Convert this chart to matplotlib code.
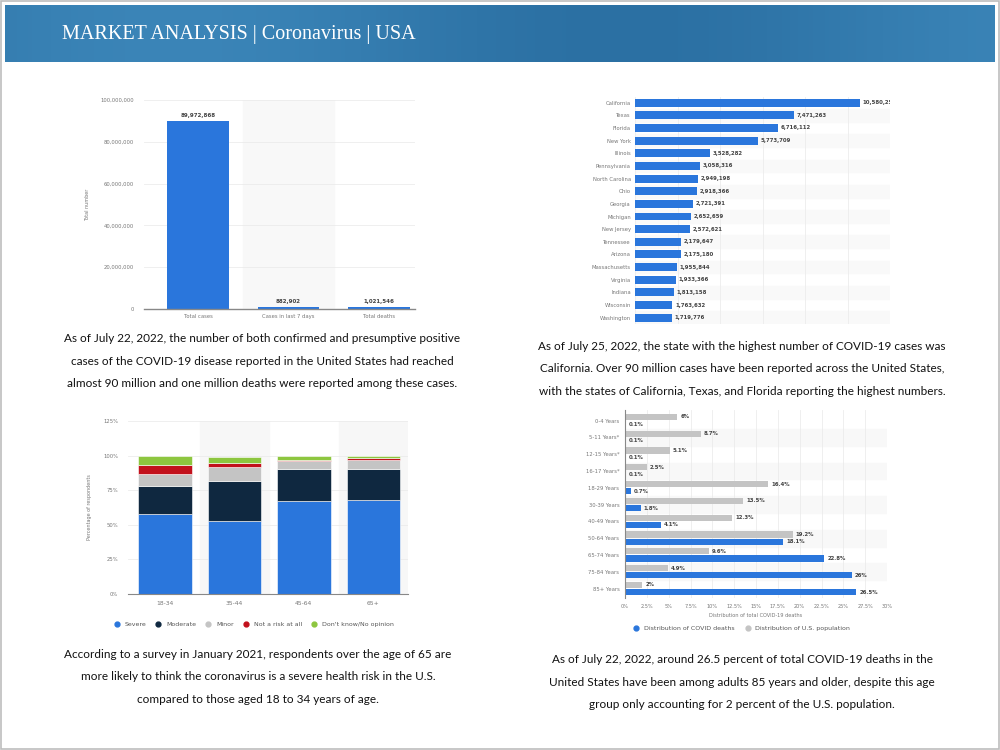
import numpy as np
import matplotlib.pyplot as plt
from matplotlib.lines import Line2D
from matplotlib.patches import Rectangle

# ---- data ----
summary_labels = ['Total cases', 'Cases in last 7 days', 'Total deaths']
summary_values = [89972868, 882902, 1021546]

states = ['California', 'Texas', 'Florida', 'New York', 'Illinois', 'Pennsylvania',
          'North Carolina', 'Ohio', 'Georgia', 'Michigan', 'New Jersey', 'Tennessee',
          'Arizona', 'Massachusetts', 'Virginia', 'Indiana', 'Wisconsin', 'Washington']
state_cases = [10580256, 7471263, 6716112, 5773709, 3528282, 3058316, 2949198, 2918366,
               2721391, 2652659, 2572621, 2179647, 2175180, 1955844, 1933366, 1813158,
               1763632, 1719776]

risk_groups = ['18-34', '35-44', '45-64', '65+']
risk_levels = ['Severe', 'Moderate', 'Minor', 'Not a risk at all', "Don't know/No opinion"]
severe = [58, 53, 67, 68]
moderate = [20, 29, 23, 22]
minor = [9, 10, 6, 7]
no_risk = [6, 3, 1, 1]
dont_know = [7, 4, 3, 2]

age_groups = ['0-4 Years', '5-11 Years*', '12-15 Years*', '16-17 Years*', '18-29 Years',
              '30-39 Years', '40-49 Years', '50-64 Years', '65-74 Years', '75-84 Years',
              '85+ Years']
pop_share = [6, 8.7, 5.1, 2.5, 16.4, 13.5, 12.3, 19.2, 9.6, 4.9, 2]
death_share = [0.1, 0.1, 0.1, 0.1, 0.7, 1.8, 4.1, 18.1, 22.8, 26, 26.5]

captions = [
    "As of July 22, 2022, the number of both confirmed and presumptive positive\n"
    "cases of the COVID-19 disease reported in the United States had reached\n"
    "almost 90 million and one million deaths were reported among these cases.",
    "As of July 25, 2022, the state with the highest number of COVID-19 cases was\n"
    "California. Over 90 million cases have been reported across the United States,\n"
    "with the states of California, Texas, and Florida reporting the highest numbers.",
    "According to a survey in January 2021, respondents over the age of 65 are\n"
    "more likely to think the coronavirus is a severe health risk in the U.S.\n"
    "compared to those aged 18 to 34 years of age.",
    "As of July 22, 2022, around 26.5 percent of total COVID-19 deaths in the\n"
    "United States have been among adults 85 years and older, despite this age\n"
    "group only accounting for 2 percent of the U.S. population.",
]

BLUE = '#2a76dc'
NAVY = '#0f2840'
GRAY = '#c4c4c4'
RED = '#c2111c'
GREEN = '#8dc63f'
TICK = '#777777'
W, H = 1000, 750

fig = plt.figure(figsize=(10, 7.5), dpi=100)
fig.patch.set_facecolor('white')


def px_axes(x0, y0, x1, y1, **kw):
    return fig.add_axes([x0 / W, 1 - y1 / H, (x1 - x0) / W, (y1 - y0) / H], **kw)


def clean(ax):
    for s in ax.spines.values():
        s.set_visible(False)
    ax.tick_params(length=0, labelsize=3.8, colors=TICK)
    ax.set_axisbelow(True)


# ---- header band ----
hax = px_axes(5, 5, 995, 62)
grad = np.linspace(0, 1, 256)
shade = 0.5 + 0.5 * np.sin(grad * np.pi * 2.2 + 0.4)
rgb = np.zeros((1, 256, 3))
rgb[0, :, 0] = 0.17 + 0.06 * shade
rgb[0, :, 1] = 0.44 + 0.08 * shade
rgb[0, :, 2] = 0.64 + 0.08 * shade
hax.imshow(rgb, aspect='auto', extent=[0, 1, 0, 1])
hax.set_xlim(0, 1)
hax.set_ylim(0, 1)
hax.axis('off')
fig.text(62 / W, 1 - 35 / H, 'MARKET ANALYSIS | Coronavirus | USA', color='white',
         fontsize=14.5, family='Liberation Serif', va='center', ha='left')

# outer frame
fig.add_artist(Rectangle((0.001, 0.001), 0.998, 0.998, transform=fig.transFigure,
                         fill=False, edgecolor='#bdbdbd', lw=1.2))

# ---- chart 1: totals ----
ax1 = px_axes(144, 100, 415, 309)
clean(ax1)
x1 = np.arange(len(summary_labels))
ax1.axvspan(0.5, 1.5, color='#f8f8f8', zorder=0)
ax1.bar(x1, summary_values, width=0.68, color=BLUE, zorder=2)
for xi, v in zip(x1, summary_values):
    ax1.text(xi, v + 1.5e6, f'{v:,}', ha='center', va='bottom', fontsize=4,
             fontweight='bold', color='#444444')
ax1.set_xlim(-0.6, 2.4)
ax1.set_ylim(0, 1e8)
ax1.set_yticks(np.arange(0, 1.01e8, 2e7))
ax1.set_yticklabels([f'{int(t):,}' for t in np.arange(0, 1.01e8, 2e7)])
ax1.set_xticks(x1)
ax1.set_xticklabels(summary_labels)
ax1.grid(axis='y', color='#ececec', lw=0.6)
ax1.spines['bottom'].set_visible(True)
ax1.spines['bottom'].set_color('#888888')
ax1.spines['bottom'].set_linewidth(1)
ax1.tick_params(axis='y', pad=7)
ax1.set_ylabel('Total number', fontsize=3.5, color=TICK, labelpad=8)

# ---- chart 2: states ----
ax2 = px_axes(635, 97, 890, 324)
clean(ax2)
y2 = np.arange(len(states))
for i in y2[1::2]:
    ax2.axhspan(i - 0.5, i + 0.5, color='#f9f9f9', zorder=0)
ax2.barh(y2, state_cases, height=0.63, color=BLUE, zorder=2)
for yi, v in zip(y2, state_cases):
    ax2.text(v + 1.2e5, yi, f'{v:,}', va='center', ha='left', fontsize=3.9,
             fontweight='bold', color='#444444', clip_on=True)
ax2.set_xlim(0, 1.2e7)
ax2.set_ylim(len(states) - 0.5, -0.45)
ax2.set_xticks(np.arange(0, 1.21e7, 2e6))
ax2.set_xticklabels([])
ax2.set_yticks(y2)
ax2.set_yticklabels(states)
ax2.tick_params(axis='y', pad=3)
ax2.grid(axis='x', color='#ececec', lw=0.6)

# ---- chart 3: perceived risk ----
ax3 = px_axes(128, 421, 408, 594)
clean(ax3)
x3 = np.arange(len(risk_groups))
for i in x3[1::2]:
    ax3.axvspan(i - 0.5, i + 0.5, color='#f7f7f7', zorder=0)
bottom = np.zeros(len(risk_groups))
for vals, col in zip([severe, moderate, minor, no_risk, dont_know],
                     [BLUE, NAVY, GRAY, RED, GREEN]):
    ax3.bar(x3, vals, bottom=bottom, width=0.77, color=col, edgecolor='white',
            linewidth=0.4, zorder=2)
    bottom += np.array(vals)
ax3.set_xlim(-0.53, 3.5)
ax3.set_ylim(0, 125)
ax3.set_yticks(np.arange(0, 126, 25))
ax3.set_yticklabels([f'{t}%' for t in range(0, 126, 25)])
ax3.set_xticks(x3)
ax3.set_xticklabels(risk_groups, fontsize=4.3)
ax3.grid(axis='y', color='#ececec', lw=0.6)
ax3.spines['bottom'].set_visible(True)
ax3.spines['bottom'].set_color('#888888')
ax3.tick_params(axis='y', pad=7)
ax3.tick_params(axis='x', pad=5)
ax3.set_ylabel('Percentage of respondents', fontsize=3.5, color=TICK, labelpad=8)
h3 = [Line2D([], [], marker='o', ls='', color=c, markersize=3.5)
      for c in [BLUE, NAVY, GRAY, RED, GREEN]]
fig.legend(h3, risk_levels, loc='center', bbox_to_anchor=(252 / W, 1 - 624 / H),
           ncol=5, frameon=False, fontsize=4.5, handletextpad=0.2, columnspacing=1.0,
           labelcolor='#555555')

# ---- chart 4: age distribution ----
ax4 = px_axes(625, 410, 887, 598)
clean(ax4)
y4 = np.arange(len(age_groups))
for i in y4[1::2]:
    ax4.axhspan(i - 0.5, i + 0.5, color='#f8f8f8', zorder=0)
ax4.barh(y4 - 0.21, pop_share, height=0.37, color=GRAY, zorder=2)
ax4.barh(y4 + 0.21, death_share, height=0.37, color=BLUE, zorder=2)
for yi, p, d in zip(y4, pop_share, death_share):
    ax4.text(p + 0.35, yi - 0.21, f'{p:g}%', va='center', fontsize=3.9,
             fontweight='bold', color='#444444')
    ax4.text(d + 0.35, yi + 0.21, f'{d:g}%', va='center', fontsize=3.9,
             fontweight='bold', color='#444444')
ax4.set_xlim(0, 30)
ax4.set_ylim(len(age_groups) - 0.435, -0.625)
ticks4 = np.arange(0, 30.1, 2.5)
ax4.set_xticks(ticks4)
ax4.set_xticklabels([f'{t:g}%' for t in ticks4], fontsize=3.6)
ax4.set_yticks(y4)
ax4.set_yticklabels(age_groups)
ax4.tick_params(axis='y', pad=4)
ax4.tick_params(axis='x', pad=4)
ax4.grid(axis='x', color='#ececec', lw=0.6)
ax4.spines['left'].set_visible(True)
ax4.spines['left'].set_color('#888888')
ax4.set_xlabel('Distribution of total COVID-19 deaths', fontsize=3.6, color=TICK,
               labelpad=3)
h4 = [Line2D([], [], marker='o', ls='', color=c, markersize=3.5) for c in [BLUE, GRAY]]
fig.legend(h4, ['Distribution of COVID deaths', 'Distribution of U.S. population'],
           loc='center', bbox_to_anchor=(740 / W, 1 - 628 / H), ncol=2, frameon=False,
           fontsize=4.5, handletextpad=0.2, columnspacing=1.2, labelcolor='#555555')

# ---- captions ----
cap_fam = ['Lato', 'DejaVu Sans']
for txt, (cx, cy) in zip(captions, [(262, 361), (742, 369), (258, 677), (742, 682)]):
    fig.text(cx / W, 1 - cy / H, txt, ha='center', va='center', fontsize=8.5,
             family=cap_fam, color='#111111', linespacing=2.3)

fig.savefig('out.png', dpi=100)
